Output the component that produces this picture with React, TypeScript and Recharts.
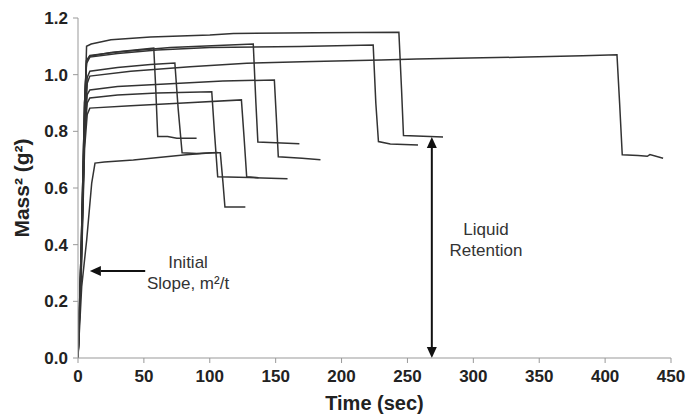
import React from 'react'
import {
  LineChart,
  Line,
  XAxis,
  YAxis,
  ReferenceLine,
  ReferenceDot,
  Label,
} from 'recharts'

// time (sec) and mass^2 (g^2) for each absorption run
const runA_t = [0, 2.5, 5, 6.5, 10, 25, 55, 100, 118, 180, 243.5, 245.5, 247, 262, 277]
const runA_m = [0, 0.38, 0.85, 1.1, 1.108, 1.123, 1.133, 1.14, 1.145, 1.148, 1.15, 0.95, 0.785, 0.783, 0.78]

const runB_t = [0, 2.5, 5, 7, 9, 40, 85, 128, 170, 230, 257, 297, 341, 383, 409, 411, 413, 425, 432, 434, 444]
const runB_m = [0, 0.35, 0.8, 0.97, 0.995, 1.012, 1.028, 1.04, 1.046, 1.052, 1.055, 1.059, 1.062, 1.067, 1.07, 0.9, 0.717, 0.715, 0.712, 0.718, 0.705]

const runC_t = [0, 2.5, 5, 6.5, 9, 25, 45, 57.5, 59, 60.5, 68, 75, 90]
const runC_m = [0, 0.4, 0.9, 1.05, 1.065, 1.078, 1.088, 1.094, 0.95, 0.782, 0.782, 0.776, 0.776]

const runD_t = [0, 2.5, 5, 7, 9, 30, 55, 73.5, 76, 79, 90, 106]
const runD_m = [0, 0.35, 0.82, 0.99, 1.012, 1.025, 1.036, 1.041, 0.88, 0.724, 0.722, 0.725]

const runE_t = [0, 2.5, 5, 7, 9, 30, 60, 101.5, 103.5, 106, 130, 159]
const runE_m = [0, 0.32, 0.78, 0.9, 0.918, 0.928, 0.935, 0.94, 0.8, 0.64, 0.637, 0.633]

const runF_t = [0, 2.5, 5, 7, 9, 40, 80, 124, 126, 128, 137]
const runF_m = [0, 0.3, 0.74, 0.86, 0.882, 0.89, 0.9, 0.911, 0.78, 0.64, 0.636]

const runG_t = [0, 2.8, 6.6, 10.4, 12.9, 20, 42, 82, 102, 108, 110, 111.5, 127]
const runG_m = [0, 0.252, 0.417, 0.617, 0.688, 0.692, 0.699, 0.717, 0.724, 0.724, 0.62, 0.533, 0.533]

const runH_t = [0, 2.5, 5, 6.5, 9, 30, 70, 115, 133, 135, 136.5, 150, 168]
const runH_m = [0, 0.4, 0.9, 1.05, 1.068, 1.08, 1.096, 1.105, 1.108, 0.9, 0.762, 0.76, 0.756]

const runI_t = [0, 2.5, 5, 7, 9, 30, 70, 110, 149, 150.5, 152, 170, 184]
const runI_m = [0, 0.34, 0.8, 0.93, 0.946, 0.958, 0.968, 0.978, 0.981, 0.85, 0.71, 0.705, 0.7]

const runJ_t = [0, 2.5, 5, 6.5, 9, 30, 60, 100, 168, 224, 226, 228, 237, 258]
const runJ_m = [0, 0.4, 0.9, 1.04, 1.062, 1.075, 1.087, 1.096, 1.099, 1.105, 0.9, 0.764, 0.755, 0.752]

const xTicks = [0, 50, 100, 150, 200, 250, 300, 350, 400, 450]
const yTicks = [0, 0.2, 0.4, 0.6, 0.8, 1.0, 1.2]

// annotation anchors, in data units
const slopeArrow = [{ x: 51, y: 0.307 }, { x: 9, y: 0.307 }]
const retentionArrow = [{ x: 268.5, y: 0 }, { x: 268.5, y: 0.78 }]
const slopeText = { x: 83.5, y: 0.318 }
const retentionText = { x: 309.6, y: 0.434 }

const runs = [
  [runA_t, runA_m],
  [runB_t, runB_m],
  [runC_t, runC_m],
  [runD_t, runD_m],
  [runE_t, runE_m],
  [runF_t, runF_m],
  [runG_t, runG_m],
  [runH_t, runH_m],
  [runI_t, runI_m],
  [runJ_t, runJ_m],
].map(([t, m]) => t.map((time, i) => ({ t: time, m: m[i] })))

const tickStyle = { fill: '#222', fontSize: 17, fontWeight: 700 }

function head(x: number, y: number, ux: number, uy: number, len: number, half: number) {
  const bx = x - ux * len
  const by = y - uy * len
  return `${x},${y} ${bx - uy * half},${by + ux * half} ${bx + uy * half},${by - ux * half}`
}

function Arrow({ x1, y1, x2, y2, both }: any) {
  const dx = x2 - x1
  const dy = y2 - y1
  const d = Math.hypot(dx, dy) || 1
  const ux = dx / d
  const uy = dy / d
  const len = 11
  return (
    <g>
      <line
        x1={both ? x1 + ux * len : x1}
        y1={both ? y1 + uy * len : y1}
        x2={x2 - ux * len}
        y2={y2 - uy * len}
        stroke="#111"
        strokeWidth={2}
      />
      <polygon points={head(x2, y2, ux, uy, len, 5)} fill="#111" />
      {both && <polygon points={head(x1, y1, -ux, -uy, len, 5)} fill="#111" />}
    </g>
  )
}

function TwoLines({ cx, cy, lines }: any) {
  return (
    <text x={cx} y={cy} textAnchor="middle" fill="#333" fontSize={17}>
      {lines.map((s: string, i: number) => (
        <tspan key={s} x={cx} dy={i === 0 ? 0 : 21}>
          {s}
        </tspan>
      ))}
    </text>
  )
}

export default function App() {
  return (
    <div
      style={{
        position: 'absolute',
        left: 0,
        top: 0,
        width: 689,
        height: 415,
        background: '#fff',
        fontFamily: '"Liberation Sans", Arial, sans-serif',
      }}
    >
      <LineChart width={689} height={415} margin={{ top: 18, right: 18, bottom: 0, left: 0 }}>
        <XAxis
          dataKey="t"
          type="number"
          domain={[0, 450]}
          ticks={xTicks}
          allowDataOverflow
          height={57}
          stroke="#999"
          tickSize={5}
          tickMargin={7}
          tick={tickStyle}
        >
          <Label
            content={({ viewBox }: any) => (
              <text
                x={viewBox.x + viewBox.width / 2}
                y={viewBox.y + 52}
                textAnchor="middle"
                fill="#222"
                fontSize={20}
                fontWeight={700}
              >
                Time (sec)
              </text>
            )}
          />
        </XAxis>
        <YAxis
          type="number"
          domain={[0, 1.2]}
          ticks={yTicks}
          width={78}
          stroke="#999"
          tickSize={5}
          tickMargin={5}
          tick={tickStyle}
          tickFormatter={(v: number) => v.toFixed(1)}
        >
          <Label
            content={({ viewBox }: any) => {
              const cx = 29
              const cy = viewBox.y + viewBox.height / 2
              return (
                <text
                  x={cx}
                  y={cy}
                  transform={`rotate(-90, ${cx}, ${cy})`}
                  textAnchor="middle"
                  fill="#222"
                  fontSize={21}
                  fontWeight={700}
                >
                  Mass² (g²)
                </text>
              )
            }}
          />
        </YAxis>

        {runs.map((data, i) => (
          <Line
            key={i}
            data={data}
            dataKey="m"
            type="linear"
            stroke="#333"
            strokeWidth={1.5}
            dot={false}
            activeDot={false}
            isAnimationActive={false}
          />
        ))}

        <ReferenceLine segment={slopeArrow} shape={(p: any) => <Arrow {...p} />} />
        <ReferenceLine segment={retentionArrow} shape={(p: any) => <Arrow {...p} both />} />
        <ReferenceDot
          x={slopeText.x}
          y={slopeText.y}
          r={0}
          shape={(p: any) => <TwoLines {...p} lines={['Initial', 'Slope, m²/t']} />}
        />
        <ReferenceDot
          x={retentionText.x}
          y={retentionText.y}
          r={0}
          shape={(p: any) => <TwoLines {...p} lines={['Liquid', 'Retention']} />}
        />
      </LineChart>
    </div>
  )
}
